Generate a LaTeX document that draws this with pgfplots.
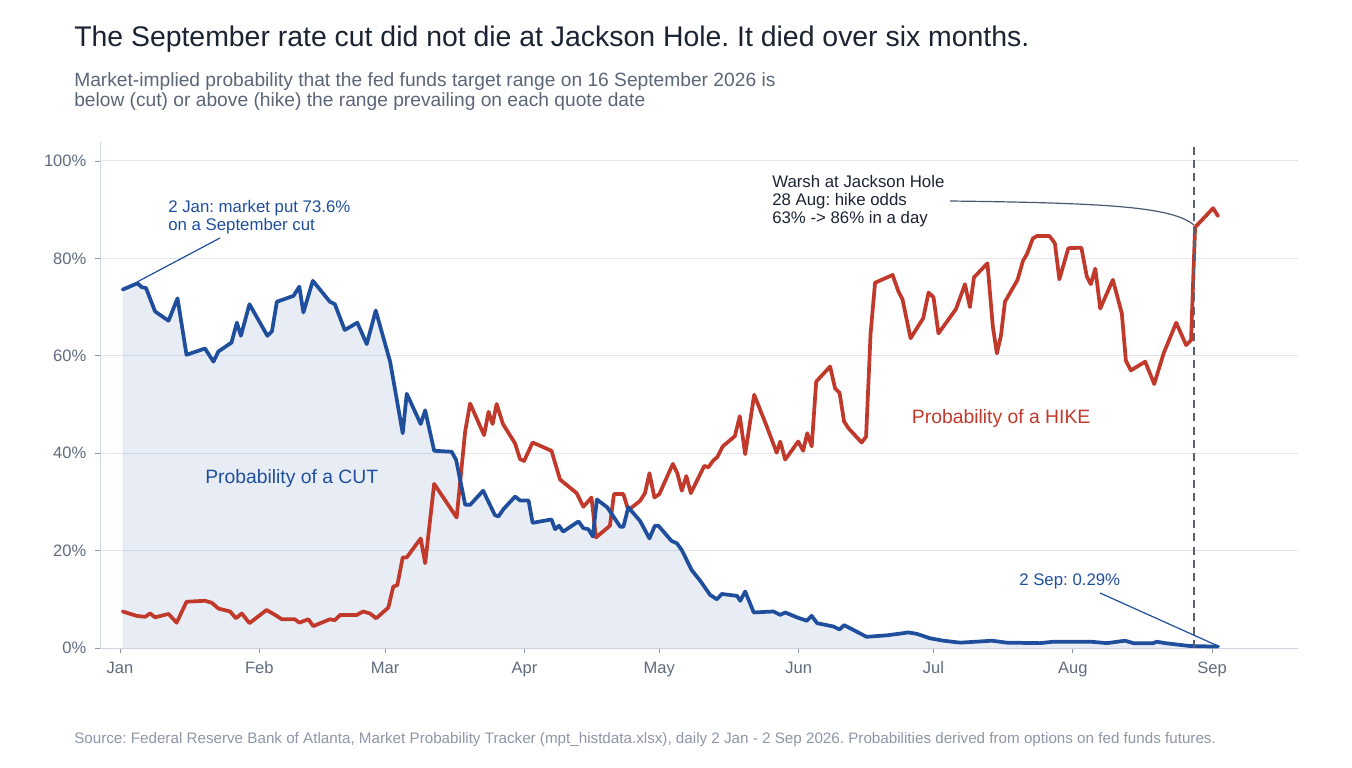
\documentclass[border=0pt]{standalone}
\usepackage{fontspec}
\setmainfont{Liberation Sans}
\usepackage{pgfplots}
\pgfplotsset{compat=1.18}
\usepackage{pgfplotstable}
\frenchspacing

\definecolor{cutblue}{HTML}{1F4E9D}
\definecolor{hikered}{HTML}{C0392B}
\definecolor{titlecol}{HTML}{1B2333}
\definecolor{subcol}{HTML}{5B6578}
\definecolor{footcol}{HTML}{8C96A8}
\definecolor{gridcol}{HTML}{E0E5EF}
\definecolor{axiscol}{HTML}{D0D6E2}
\definecolor{tickcol}{HTML}{5F6B7E}
\definecolor{leadcol}{HTML}{4A5870}
\definecolor{dashcol}{HTML}{5A6272}

\pgfplotstableread{
day cut
0.6 73.6
3.9 74.9
4.8 74.1
5.8 73.9
7.8 69.1
10.8 67.2
12.8 71.8
14.8 60.2
18.9 61.5
20.8 58.8
21.9 60.9
24.8 62.7
26.0 66.8
26.9 64.1
28.8 70.6
32.8 64.1
33.8 65.0
34.9 71.1
38.6 72.3
39.9 74.2
40.8 68.9
42.9 75.4
46.7 71.1
47.8 70.6
50.0 65.3
52.8 66.8
54.9 62.4
56.9 69.3
60.1 58.8
62.9 44.1
63.8 52.2
66.9 46.0
67.9 48.8
69.9 40.5
73.8 40.3
74.8 38.6
76.8 29.4
77.9 29.4
80.8 32.3
83.4 27.3
84.2 27.0
85.3 28.5
87.9 31.1
89.0 30.3
90.9 30.3
91.8 25.7
96.0 26.4
96.8 24.4
97.7 25.1
98.6 23.9
102.0 26.0
103.1 24.6
104.2 24.4
105.2 22.9
106.1 30.5
108.4 28.9
111.3 24.9
112.0 24.9
113.1 28.9
115.7 26.1
117.8 22.5
119.0 25.1
119.8 25.1
122.7 22.0
123.9 21.5
125.0 20.1
127.2 16.0
129.1 13.8
131.3 10.9
132.8 10.0
133.9 11.1
137.3 10.7
138.0 9.7
139.1 11.6
141.0 7.3
145.4 7.5
146.9 6.8
148.0 7.3
150.6 6.3
152.8 5.6
153.9 6.6
155.1 5.1
158.8 4.4
160.1 3.8
161.1 4.7
163.2 3.7
166.1 2.3
170.6 2.6
173.9 3.0
175.4 3.2
177.3 2.9
180.2 2.0
183.2 1.5
186.9 1.1
190.6 1.3
194.0 1.5
197.3 1.1
204.7 1.0
207.7 1.3
215.9 1.3
219.6 1.0
223.6 1.5
225.5 1.0
229.9 1.0
230.7 1.3
232.5 1.0
238.1 0.4
244.3 0.29
}\cutdata

\pgfplotstableread{
day hike
0.6 7.5
3.7 6.6
5.6 6.4
6.7 7.1
7.8 6.3
10.8 7.0
12.6 5.2
14.8 9.5
18.9 9.7
20.4 9.3
21.9 8.1
24.5 7.5
25.8 6.1
27.1 7.1
28.8 5.1
32.6 7.8
34.5 6.8
36.0 5.9
38.9 5.9
39.9 5.2
41.9 5.9
43.0 4.5
46.7 5.9
47.8 5.7
49.0 6.8
52.7 6.8
54.1 7.5
55.6 7.1
57.0 6.1
59.7 8.3
60.8 12.6
61.7 12.9
62.9 18.6
63.8 18.6
66.9 22.5
67.9 17.4
69.9 33.7
74.9 26.8
76.8 44.5
77.9 50.2
81.0 43.7
82.0 48.5
82.9 46.0
83.8 50.1
85.2 46.0
87.9 42.0
89.0 38.8
89.9 38.4
91.8 42.2
96.0 40.5
97.9 34.6
101.6 31.8
103.1 29.0
104.9 30.9
105.9 22.7
109.0 25.1
109.9 31.6
112.0 31.6
113.1 28.3
115.7 30.2
116.8 31.8
117.8 35.9
118.9 30.9
120.0 31.6
123.0 37.8
124.0 35.9
125.0 32.3
126.0 35.3
127.0 31.8
130.0 37.4
130.9 37.1
132.0 38.5
132.9 39.2
134.1 41.4
136.8 43.5
137.9 47.6
139.1 39.8
141.1 52.0
143.9 45.5
146.1 40.1
146.9 42.4
148.0 38.7
150.9 42.4
152.0 40.5
152.9 44.1
153.9 41.4
154.9 54.7
158.0 57.8
159.1 53.3
160.1 52.4
161.1 46.5
162.1 45.1
165.0 42.2
166.0 43.4
167.0 64.6
168.0 75.0
171.9 76.6
173.2 73.2
174.1 71.6
175.9 63.6
178.7 67.7
179.9 73.0
181.0 72.0
182.1 64.6
186.0 69.6
188.0 74.7
189.1 70.0
190.0 76.1
193.0 79.0
194.2 66.0
195.1 60.5
196.0 64.1
196.9 71.1
199.7 75.6
200.9 79.5
201.8 80.9
203.1 84.1
204.0 84.6
206.8 84.6
208.0 83.1
209.0 75.7
211.0 82.1
213.9 82.2
215.1 76.3
216.0 74.7
217.0 77.9
218.1 69.7
220.9 75.6
222.9 68.7
223.8 59.0
224.9 57.0
228.1 58.8
230.1 54.2
232.2 60.5
235.0 66.8
237.2 62.2
238.3 63.2
239.2 86.4
243.2 90.3
244.3 88.7
}\hikedata

\begin{document}
\begin{tikzpicture}
\begin{scope}[x=0.75pt,y=-0.75pt]
\path[use as bounding box] (0,0) rectangle (1352,767);
\node[anchor=base west, inner sep=0, text=titlecol, font=\fontsize{21.3}{25}\selectfont] at (74,47)
  {The September rate cut did not die at Jackson Hole. It died over six months.};
\node[anchor=base west, inner sep=0, text=subcol, font=\fontsize{14.4}{17}\selectfont] at (74,86.5)
  {Market-implied probability that the fed funds target range on 16 September 2026 is};
\node[anchor=base west, inner sep=0, text=subcol, font=\fontsize{14.4}{17}\selectfont] at (74,106.5)
  {below (cut) or above (hike) the range prevailing on each quote date};
\node[anchor=base west, inner sep=0, text=footcol, font=\fontsize{11.4}{13}\selectfont] at (74,743)
  {Source: Federal Reserve Bank of Atlanta, Market Probability Tracker (mpt\_histdata.xlsx), daily 2 Jan - 2 Sep 2026. Probabilities derived from options on fed funds futures.};
\end{scope}

\begin{axis}[
  at={(75pt,-486pt)}, anchor=south west,
  scale only axis, width=898.5pt, height=379.5pt,
  xmin=-4.45, xmax=262.1, ymin=0, ymax=103.9,
  clip=false,
  axis x line*=bottom, axis y line*=left,
  axis line style={draw=axiscol, line width=0.75pt},
  xtick={0,31,59,90,120,151,181,212,243},
  xticklabels={Jan,Feb,Mar,Apr,May,Jun,Jul,Aug,Sep},
  ytick={0,20,40,60,80,100},
  yticklabels={0\%,20\%,40\%,60\%,80\%,100\%},
  ymajorgrids, grid style={draw=gridcol, line width=0.75pt},
  tick align=outside, major tick length=3.75pt,
  tick style={draw=tickcol!70, line width=0.6pt},
  tick label style={font=\fontsize{12.4}{14}\selectfont, text=tickcol},
  xticklabel style={yshift=-3pt},
  yticklabel style={xshift=-3pt},
]
\addplot[draw=none, fill=cutblue, fill opacity=0.1] table[x=day,y=cut]{\cutdata} \closedcycle;
\addplot[hikered, line width=2.8pt, line join=round, line cap=round] table[x=day,y=hike]{\hikedata};
\addplot[cutblue, line width=2.8pt, line join=round, line cap=round] table[x=day,y=cut]{\cutdata};
\draw[dashcol, line width=1.1pt, dash pattern=on 6pt off 4pt] (axis cs:239,0) -- (axis cs:239,103.3);
\end{axis}

\begin{scope}[x=0.75pt,y=-0.75pt]
\draw[cutblue, line width=0.9pt] (220,238) -- (137,282);
\node[anchor=base west, inner sep=0, text=cutblue, font=\fontsize{12.6}{15}\selectfont] at (168,212.7) {2 Jan: market put 73.6\%};
\node[anchor=base west, inner sep=0, text=cutblue, font=\fontsize{12.6}{15}\selectfont] at (168,230) {on a September cut};
\node[anchor=base west, inner sep=0, text=cutblue, font=\fontsize{14.5}{17}\selectfont] at (205,483.3) {Probability of a CUT};
\node[anchor=base west, inner sep=0, text=hikered, font=\fontsize{14.5}{17}\selectfont] at (911.7,423.3) {Probability of a HIKE};
\node[anchor=base west, inner sep=0, text=titlecol, font=\fontsize{12.6}{15}\selectfont] at (772,187.3) {Warsh at Jackson Hole};
\node[anchor=base west, inner sep=0, text=titlecol, font=\fontsize{12.6}{15}\selectfont] at (772,205) {28 Aug: hike odds};
\node[anchor=base west, inner sep=0, text=titlecol, font=\fontsize{12.6}{15}\selectfont] at (772,223.3) {63\% -> 86\% in a day};
\draw[leadcol, line width=0.9pt] (950,201) .. controls (1110,203) and (1172,207) .. (1194,225);
\node[anchor=base west, inner sep=0, text=cutblue, font=\fontsize{12.6}{15}\selectfont] at (1019,585) {2 Sep: 0.29\%};
\draw[cutblue, line width=0.9pt] (1100,593) -- (1218,646);
\end{scope}
\end{tikzpicture}
\end{document}
